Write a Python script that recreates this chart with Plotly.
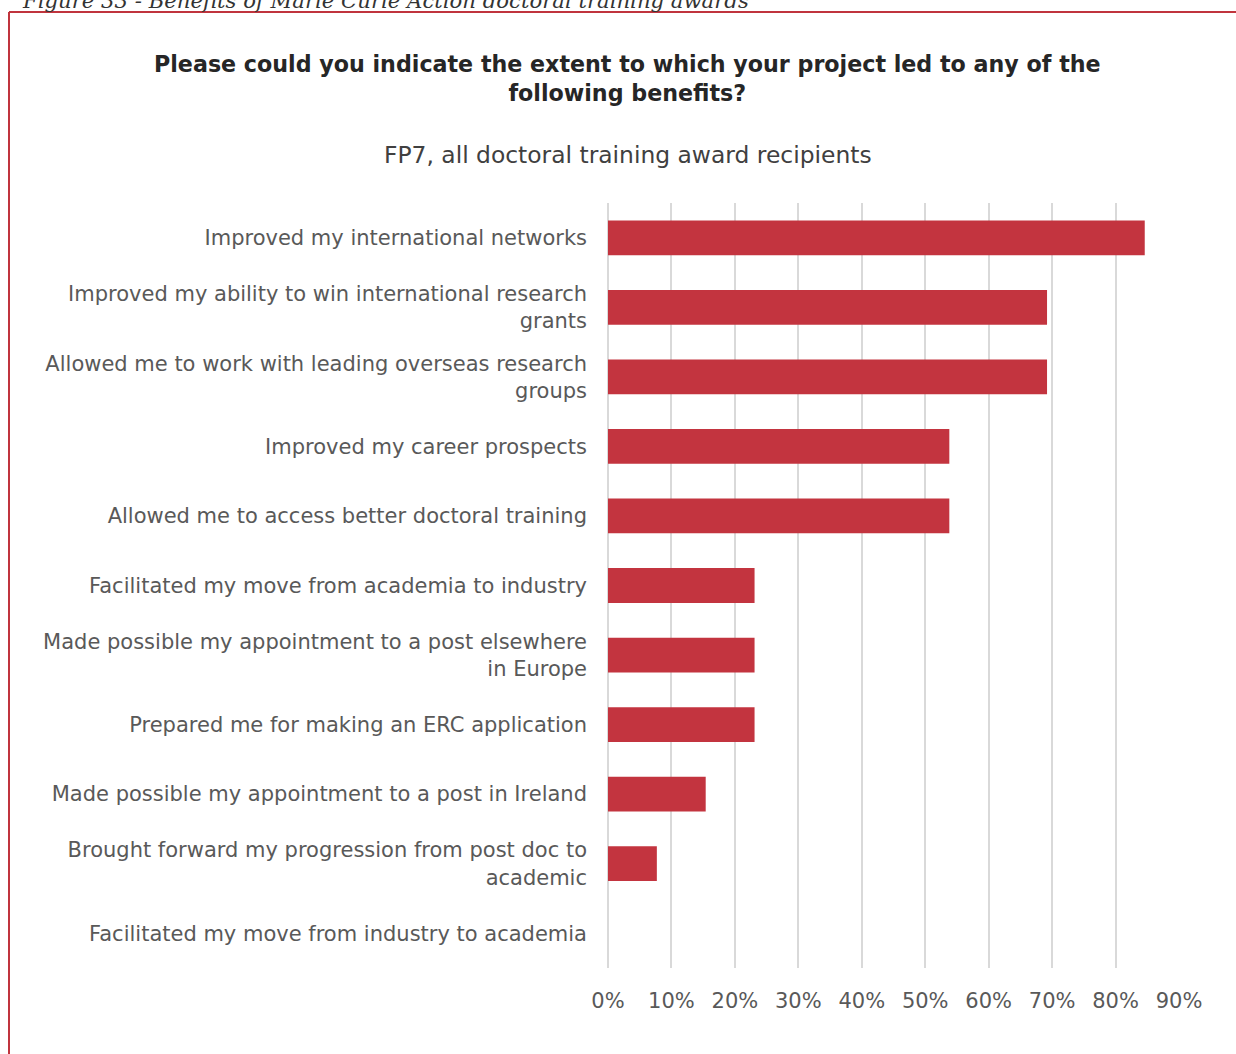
import plotly.graph_objects as go

categories = [
    "Improved my international networks",
    "Improved my ability to win international research<br>grants",
    "Allowed me to work with leading overseas research<br>groups",
    "Improved my career prospects",
    "Allowed me to access better doctoral training",
    "Facilitated my move from academia to industry",
    "Made possible my appointment to a post elsewhere<br>in Europe",
    "Prepared me for making an ERC application",
    "Made possible my appointment to a post in Ireland",
    "Brought forward my progression from post doc to<br>academic",
    "Facilitated my move from industry to academia",
]
values = [0.846, 0.692, 0.692, 0.538, 0.538, 0.231, 0.231, 0.231, 0.154, 0.077, 0.0]
tick_vals = [0, 0.1, 0.2, 0.3, 0.4, 0.5, 0.6, 0.7, 0.8, 0.9]
tick_text = ["0%", "10%", "20%", "30%", "40%", "50%", "60%", "70%", "80%", "90%"]

W, H = 1236, 1054
ML, MR, MT, MB = 608, 57, 203, 86
PW = W - ML - MR
PH = H - MT - MB

def px_x(p):
    return (p - ML) / PW

def px_y(p):
    return (H - MB - p) / PH

BAR = "#C3343F"
FRAME = "#C0343D"

fig = go.Figure(go.Bar(
    x=values, y=categories, orientation="h",
    marker=dict(color=BAR, line=dict(width=0)),
    hoverinfo="skip",
))

fig.update_layout(
    width=W, height=H,
    margin=dict(l=ML, r=MR, t=MT, b=MB, pad=0),
    paper_bgcolor="white", plot_bgcolor="white",
    bargap=0.5,
    showlegend=False,
    font=dict(family="DejaVu Sans", color="#595959"),
)
fig.update_xaxes(
    range=[0, 0.9], tickvals=tick_vals, ticktext=tick_text,
    showgrid=True, gridcolor="#D9D9D9", gridwidth=1.5,
    zeroline=True, zerolinecolor="#D9D9D9", zerolinewidth=1.5,
    showline=False, ticks="", ticklabelstandoff=18,
    tickfont=dict(size=21, color="#595959", family="DejaVu Sans"),
    fixedrange=True,
)
fig.update_yaxes(
    autorange="reversed", showgrid=False, zeroline=False, showline=False,
    ticks="", ticklabelstandoff=20,
    tickfont=dict(size=21, color="#595959", family="DejaVu Sans"),
    fixedrange=True,
)

annotations = [
    dict(text="<i>Figure 33 - Benefits of Marie Curie Action doctoral training awards</i>",
         x=px_x(20), y=px_y(15), xref="paper", yref="paper",
         xanchor="left", yanchor="bottom", showarrow=False,
         font=dict(family="DejaVu Serif", size=21.2, color="#333333")),
    dict(text="<b>Please could you indicate the extent to which your project led to any of the<br>following benefits?</b>",
         x=px_x(627), y=px_y(79), xref="paper", yref="paper",
         xanchor="center", yanchor="middle", showarrow=False,
         font=dict(family="DejaVu Sans", size=22.2, color="#262626")),
    dict(text="FP7, all doctoral training award recipients",
         x=px_x(627.5), y=px_y(155), xref="paper", yref="paper",
         xanchor="center", yanchor="middle", showarrow=False,
         font=dict(family="DejaVu Sans", size=23.4, color="#404040")),
]
fig.update_layout(annotations=annotations)

shapes = [
    dict(type="line", xref="paper", yref="paper",
         x0=px_x(9), x1=px_x(1240), y0=px_y(12), y1=px_y(12),
         line=dict(color=FRAME, width=2)),
    dict(type="line", xref="paper", yref="paper",
         x0=px_x(9), x1=px_x(9), y0=px_y(12), y1=px_y(1060),
         line=dict(color=FRAME, width=2)),
]
fig.update_layout(shapes=shapes)

fig.write_html("out.html", config={"displayModeBar": False},
               post_script="document.body.style.margin='0';document.body.style.padding='0';")
